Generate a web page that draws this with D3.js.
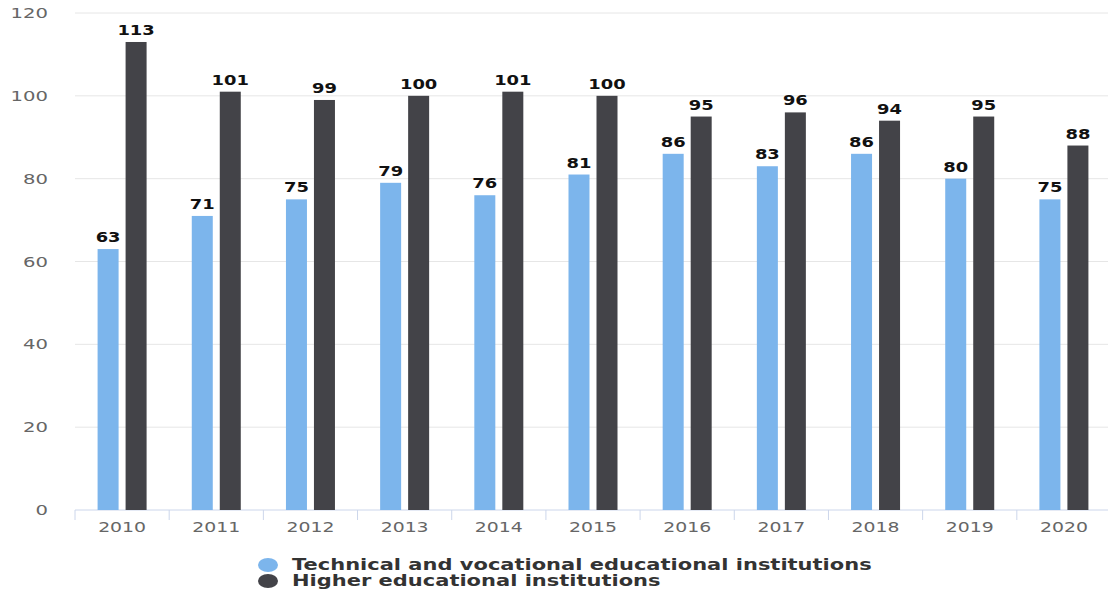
<!DOCTYPE html>
<html>
<head>
<meta charset="utf-8">
<script src="https://cdn.jsdelivr.net/npm/d3@7"></script>
<style>
  body { margin: 0; background: #fff; }
  text { font-family: "DejaVu Sans", sans-serif; }
</style>
</head>
<body>
<div id="chart"></div>
<script>
const years = ['2010', '2011', '2012', '2013', '2014', '2015', '2016', '2017', '2018', '2019', '2020'];
const technical = [63, 71, 75, 79, 76, 81, 86, 83, 86, 80, 75];
const higher = [113, 101, 99, 100, 101, 100, 95, 96, 94, 95, 88];
const yTicks = [0, 20, 40, 60, 80, 100, 120];
const seriesNames = ['Technical and vocational educational institutions', 'Higher educational institutions'];
const seriesColors = ['#7cb5ec', '#434348'];

const width = 1108, height = 592;
const margin = { top: 13, right: -3, bottom: 82, left: 75 };

// the picture is stretched sideways, so text gets a horizontal scale
const stretch = (x, y, sx) => `translate(${x}, ${y}) scale(${sx}, 1)`;

const svg = d3.select('#chart').append('svg')
  .attr('width', width)
  .attr('height', height);

const innerW = width - margin.left - margin.right;
const innerH = height - margin.top - margin.bottom;

const chart = svg.append('g')
  .attr('transform', `translate(${margin.left}, ${margin.top})`);

const xScale = d3.scaleBand()
  .domain(years)
  .range([0, innerW]);

const yScale = d3.scaleLinear()
  .domain([0, 120])
  .range([innerH, 0]);

// gridlines
chart.append('g')
  .selectAll('line')
  .data(yTicks.filter(d => d > 0))
  .join('line')
  .attr('x1', 0)
  .attr('x2', innerW)
  .attr('y1', d => yScale(d))
  .attr('y2', d => yScale(d))
  .attr('stroke', '#e6e6e6');

// y labels
chart.append('g')
  .selectAll('text')
  .data(yTicks)
  .join('text')
  .attr('transform', d => stretch(-27, yScale(d) + 5, 1.4))
  .attr('text-anchor', 'end')
  .attr('fill', '#666')
  .style('font-size', '14px')
  .text(d => d);

// x axis
const xAxis = chart.append('g')
  .attr('transform', `translate(0, ${innerH})`);

xAxis.append('line')
  .attr('x1', 0).attr('x2', innerW)
  .attr('stroke', '#ccd6eb');

xAxis.selectAll('.tick')
  .data(years)
  .join('line')
  .attr('class', 'tick')
  .attr('x1', d => xScale(d))
  .attr('x2', d => xScale(d))
  .attr('y1', 0).attr('y2', 10)
  .attr('stroke', '#ccd6eb');

xAxis.selectAll('text')
  .data(years)
  .join('text')
  .attr('transform', d => stretch(xScale(d) + xScale.bandwidth() / 2, 22, 1.3))
  .attr('text-anchor', 'middle')
  .attr('fill', '#666')
  .style('font-size', '14.5px')
  .text(d => d);

// bars
const barW = 21, gap = 7;
const series = [technical, higher];

series.forEach((vals, si) => {
  const off = si === 0 ? -(barW + gap / 2) : gap / 2;
  const data = years.map((y, i) => ({ year: y, value: vals[i] }));
  const cx = d => xScale(d.year) + xScale.bandwidth() / 2 + off;

  chart.append('g')
    .selectAll('rect')
    .data(data)
    .join('rect')
    .attr('x', cx)
    .attr('y', d => yScale(d.value))
    .attr('width', barW)
    .attr('height', d => innerH - yScale(d.value))
    .attr('fill', seriesColors[si]);

  chart.append('g')
    .selectAll('text')
    .data(data)
    .join('text')
    .attr('transform', d => stretch(cx(d) + barW / 2, yScale(d.value) - 7, 1.28))
    .attr('text-anchor', 'middle')
    .attr('fill', '#111')
    .style('font-size', '14px')
    .style('font-weight', 'bold')
    .text(d => d.value);
});

// legend
const legend = svg.append('g')
  .attr('transform', 'translate(268, 565)');

legend.selectAll('ellipse')
  .data(seriesNames)
  .join('ellipse')
  .attr('cx', 0)
  .attr('cy', (d, i) => i * 16)
  .attr('rx', 10)
  .attr('ry', 7)
  .attr('fill', (d, i) => seriesColors[i]);

legend.selectAll('text')
  .data(seriesNames)
  .join('text')
  .attr('transform', (d, i) => stretch(24, i * 16 + 5, 1.4))
  .attr('fill', '#333')
  .style('font-size', '15px')
  .style('font-weight', 'bold')
  .text(d => d);
</script>
</body>
</html>
